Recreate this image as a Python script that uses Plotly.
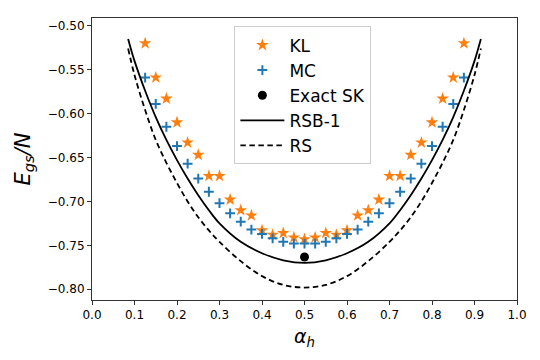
import plotly.graph_objects as go

# alpha_h grid for the KL / MC points
alpha_pts = [0.125, 0.15, 0.175, 0.2, 0.225, 0.25, 0.275, 0.3, 0.325, 0.35,
             0.375, 0.4, 0.425, 0.45, 0.475, 0.5, 0.525, 0.55, 0.575, 0.6,
             0.625, 0.65, 0.675, 0.7, 0.725, 0.75, 0.775, 0.8, 0.825, 0.85, 0.875]

kl_vals = [-0.520, -0.559, -0.583, -0.610, -0.633, -0.647, -0.671, -0.671, -0.698, -0.710,
           -0.716, -0.733, -0.738, -0.736, -0.741, -0.743, -0.741, -0.736, -0.738, -0.733,
           -0.716, -0.710, -0.698, -0.671, -0.671, -0.647, -0.633, -0.610, -0.583, -0.559, -0.520]

mc_vals = [-0.559, -0.589, -0.615, -0.637, -0.657, -0.674, -0.689, -0.702, -0.7135, -0.723,
           -0.732, -0.737, -0.742, -0.746, -0.748, -0.748, -0.748, -0.746, -0.742, -0.737,
           -0.732, -0.723, -0.7135, -0.702, -0.689, -0.674, -0.657, -0.637, -0.615, -0.589, -0.559]

exact_alpha = [0.5]
exact_val = [-0.7633]

# theory curves
alpha_line = [0.085, 0.1, 0.125, 0.15, 0.175, 0.2, 0.225, 0.25, 0.275, 0.3, 0.35, 0.4, 0.45, 0.5,
              0.55, 0.6, 0.65, 0.7, 0.725, 0.75, 0.775, 0.8, 0.825, 0.85, 0.875, 0.9, 0.915]

rsb1_vals = [-0.515, -0.540, -0.574, -0.604, -0.630, -0.653, -0.674, -0.693, -0.710, -0.725,
             -0.746, -0.759, -0.767, -0.770,
             -0.767, -0.759, -0.746, -0.725, -0.710, -0.693, -0.674, -0.653, -0.630, -0.604,
             -0.574, -0.540, -0.515]

rs_vals = [-0.526, -0.556, -0.596, -0.630, -0.656, -0.679, -0.700, -0.718, -0.733, -0.746,
           -0.768, -0.785, -0.795, -0.798,
           -0.795, -0.785, -0.768, -0.746, -0.733, -0.718, -0.700, -0.679, -0.656, -0.630,
           -0.596, -0.556, -0.526]

fig = go.Figure()

fig.add_trace(go.Scatter(
    x=alpha_pts, y=kl_vals, mode='markers', name='KL', legendgroup='a',
    marker=dict(symbol='star', size=9.5, color='#ff7f0e', line=dict(width=0))
))
fig.add_trace(go.Scatter(
    x=alpha_pts, y=mc_vals, mode='markers', name='MC', legendgroup='b',
    marker=dict(symbol='cross-thin', size=7, color='#1f77b4',
                line=dict(width=2, color='#1f77b4'))
))
fig.add_trace(go.Scatter(
    x=exact_alpha, y=exact_val, mode='markers', name='Exact SK', legendgroup='c',
    marker=dict(symbol='circle', size=9, color='black')
))
fig.add_trace(go.Scatter(
    x=alpha_line, y=rsb1_vals, mode='lines', name='RSB-1', legendgroup='d',
    line=dict(color='black', width=1.8, shape='spline')
))
fig.add_trace(go.Scatter(
    x=alpha_line, y=rs_vals, mode='lines', name='RS', legendgroup='e',
    line=dict(color='black', width=1.8, dash='5.5px,3.5px', shape='spline')
))

axis_common = dict(
    showline=True, linecolor='#333333', linewidth=1, mirror=True,
    ticks='outside', ticklen=4, tickcolor='#333333', showgrid=False, zeroline=False,
    tickfont=dict(size=12, color='black'), automargin=False,
)

fig.update_xaxes(range=[0, 1], dtick=0.1, tickformat='.1f',
                 title=dict(text='<i>α</i><sub><i>h</i></sub>', font=dict(size=19), standoff=8),
                 **axis_common)
fig.update_yaxes(range=[-0.8122, -0.4912], tick0=-0.8, dtick=0.05, tickformat='.2f',
                 title=dict(text='<i>E</i><sub><i>gs</i></sub><i>/N</i>', font=dict(size=21), standoff=11),
                 **axis_common)

# page body adds an 8px offset, so the figure is sized to the remaining window
fig.update_layout(
    width=532, height=352,
    margin=dict(l=84, r=23, t=10, b=60),
    plot_bgcolor='white', paper_bgcolor='white',
    font=dict(family='DejaVu Sans', color='black'),
    legend=dict(x=0.335, y=0.97, xanchor='left', yanchor='top',
                bordercolor='#cccccc', borderwidth=1, bgcolor='rgba(255,255,255,0.8)',
                font=dict(size=17), tracegroupgap=0, itemwidth=44),
)

fig.write_html("out.html")
